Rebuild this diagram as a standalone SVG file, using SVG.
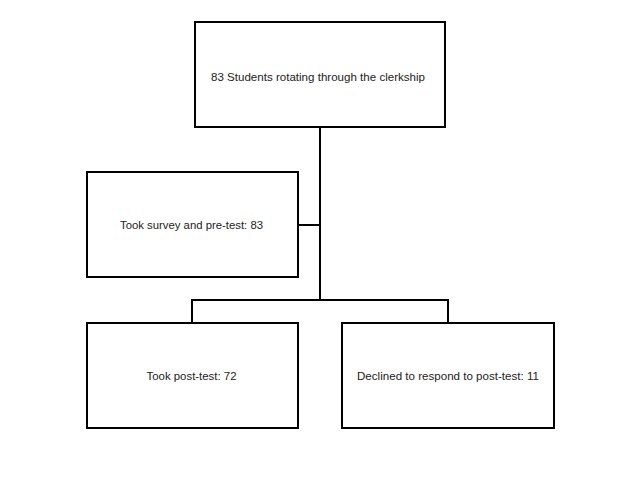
<svg xmlns="http://www.w3.org/2000/svg" width="640" height="480" viewBox="0 0 640 480">
<style>
.box{fill:#fff;stroke:#000;stroke-width:2}
.conn{fill:none;stroke:#000;stroke-width:2}
text{font-family:"Liberation Sans",Arial,sans-serif;font-size:11.5px;fill:#222;text-anchor:middle}
</style>
<rect width="640" height="480" fill="#fff"/>
<g id="connectors">
<path class="conn" d="M320,127 V300"/>
<path class="conn" d="M299,225 H320"/>
<path class="conn" d="M192,322 V300 H448 V322"/>
</g>
<g id="n1">
<rect class="box" x="195" y="22" width="250" height="105"/>
<text x="318" y="80.5" textLength="214" lengthAdjust="spacingAndGlyphs">83 Students rotating through the clerkship</text>
</g>
<g id="n2">
<rect class="box" x="87" y="172" width="211" height="105"/>
<text x="191.5" y="228.5" textLength="143" lengthAdjust="spacingAndGlyphs">Took survey and pre-test: 83</text>
</g>
<g id="n3">
<rect class="box" x="87" y="323" width="211" height="105"/>
<text x="191.5" y="379.5" textLength="90" lengthAdjust="spacingAndGlyphs">Took post-test: 72</text>
</g>
<g id="n4">
<rect class="box" x="342" y="323" width="212" height="105"/>
<text x="448" y="379.5" textLength="182" lengthAdjust="spacingAndGlyphs">Declined to respond to post-test: 11</text>
</g>
</svg>
